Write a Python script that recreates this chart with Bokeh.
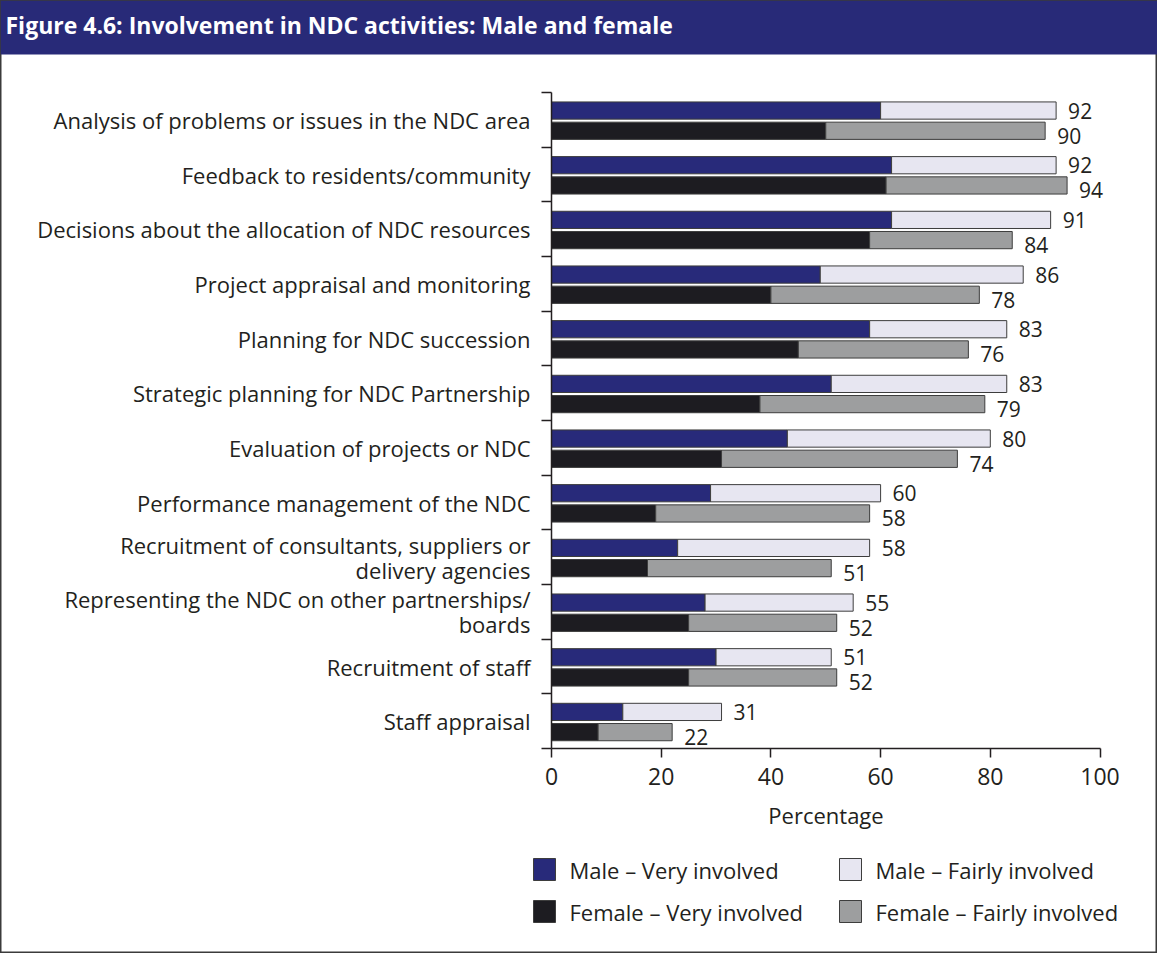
from bokeh.plotting import figure
from bokeh.models import Range1d, LinearAxis, FixedTicker, ColumnDataSource
from bokeh.core.properties import value
from bokeh.embed import file_html
from bokeh.resources import INLINE

# ---------------- data ----------------
categories = [
    "Analysis of problems or issues in the NDC area",
    "Feedback to residents/community",
    "Decisions about the allocation of NDC resources",
    "Project appraisal and monitoring",
    "Planning for NDC succession",
    "Strategic planning for NDC Partnership",
    "Evaluation of projects or NDC",
    "Performance management of the NDC",
    "Recruitment of consultants, suppliers or\ndelivery agencies",
    "Representing the NDC on other partnerships/\nboards",
    "Recruitment of staff",
    "Staff appraisal",
]
male_very = [60, 62, 62, 49, 58, 51, 43, 29, 23, 28, 30, 13]
male_total = [92, 92, 91, 86, 83, 83, 80, 60, 58, 55, 51, 31]
female_very = [50, 61, 58, 40, 45, 38, 31, 19, 17.5, 25, 25, 8.5]
female_total = [90, 94, 84, 78, 76, 79, 74, 58, 51, 52, 52, 22]
x_ticks = [0, 20, 40, 60, 80, 100]
series_names = ["Male \u2013 Very involved", "Male \u2013 Fairly involved",
                "Female \u2013 Very involved", "Female \u2013 Fairly involved"]
title_text = "Figure 4.6: Involvement in NDC activities: Male and female"

# ---------------- style ----------------
FONT_NAME = "Open Sans"
FONT = value(FONT_NAME)
INK = "#231f20"
HEADER = "#282a78"
C_MV = "#282a7a"
C_MF = "#e7e6f1"
C_FV = "#1d1c21"
C_FF = "#9d9e9f"
EDGE = "#3d3d3d"

W, H = 1157, 953
PX_PER_PCT = 5.485
X0_PX = 551
ROW_PX = 54.67
Y0_PX = 92


def px2x(px):
    return (px - X0_PX) / PX_PER_PCT


def px2y(py):
    return (py - Y0_PX) / ROW_PX


n = len(categories)
y_m = [i + 0.33 for i in range(n)]
y_f = [i + 0.70 for i in range(n)]

src = ColumnDataSource(dict(
    y_m=y_m, y_f=y_f,
    mv=male_very, mt=male_total, fv=female_very, ft=female_total,
    mlab=[str(v) for v in male_total], flab=[str(v) for v in female_total],
))

p = figure(width=W, height=H, output_backend="svg", toolbar_location=None,
           x_range=Range1d(px2x(0), px2x(W)),
           y_range=Range1d(px2y(H), px2y(0)),
           x_axis_type=None, y_axis_type=None,
           min_border_left=0, min_border_right=0, min_border_top=0, min_border_bottom=0)
p.title.visible = False
p.outline_line_color = "#3b3b3b"
p.outline_line_width = 2
p.background_fill_color = "white"
p.border_fill_color = "white"

# header
p.quad(left=px2x(0), right=px2x(W), top=px2y(0), bottom=px2y(54),
       fill_color=HEADER, line_color=None)
p.text(x=[px2x(5)], y=[px2y(24)], text=[title_text], text_font=FONT,
       text_font_style="bold", text_font_size="23px", text_color="white",
       text_baseline="middle", text_align="left")

BH = 0.315
p.hbar(y="y_m", left=0, right="mv", height=BH, fill_color=C_MV, line_color=EDGE,
       line_width=1, source=src)
p.hbar(y="y_m", left="mv", right="mt", height=BH, fill_color=C_MF, line_color=EDGE,
       line_width=1, source=src)
p.hbar(y="y_f", left=0, right="fv", height=BH, fill_color=C_FV, line_color=EDGE,
       line_width=1, source=src)
p.hbar(y="y_f", left="fv", right="ft", height=BH, fill_color=C_FF, line_color=EDGE,
       line_width=1, source=src)

p.text(x="mt", y="y_m", text="mlab", x_offset=12, text_baseline="middle",
       text_font=FONT, text_font_size="21px", text_color=INK, source=src)
p.text(x="ft", y="y_f", text="flab", x_offset=12, y_offset=5, text_baseline="middle",
       text_font=FONT, text_font_size="21px", text_color=INK, source=src)

# y axis: labels at row centres, ticks (minor) at row boundaries
yax = LinearAxis(fixed_location=0,
                 ticker=FixedTicker(ticks=[i + 0.5 for i in range(n)],
                                    minor_ticks=list(range(n + 1))),
                 bounds=(0, n),
                 axis_line_color=INK, axis_line_width=1.5,
                 major_tick_line_color=None, major_tick_out=0, major_tick_in=0,
                 minor_tick_line_color=INK, minor_tick_line_width=1.5,
                 minor_tick_out=10, minor_tick_in=0,
                 major_label_standoff=11,
                 major_label_overrides={i + 0.5: c for i, c in enumerate(categories)},
                 major_label_text_font=FONT_NAME, major_label_text_font_size="22px",
                 major_label_text_line_height=0.83,
                 major_label_text_color=INK)
p.add_layout(yax, "left")

xax = LinearAxis(fixed_location=n, ticker=FixedTicker(ticks=x_ticks),
                 bounds=(0, 100), major_tick_out=9, major_tick_in=0,
                 axis_line_color=INK, axis_line_width=1.5,
                 major_tick_line_color=INK, major_tick_line_width=1.5,
                 minor_tick_line_color=None,
                 major_label_standoff=10,
                 major_label_text_font=FONT_NAME, major_label_text_font_size="23px",
                 major_label_text_color=INK,
                 axis_label="Percentage", axis_label_text_font=FONT_NAME,
                 axis_label_text_font_style="normal", axis_label_text_font_size="22px",
                 axis_label_text_color=INK, axis_label_standoff=12)
p.add_layout(xax, "below")

# legend (manual)
sw = 22
leg_cols = [533, 839]
leg_rows = [858, 900]
fills = [C_MV, C_MF, C_FV, C_FF]
for k, name in enumerate(series_names):
    col = k % 2
    row = k // 2
    lx = leg_cols[col]
    ty = leg_rows[row]
    p.quad(left=px2x(lx), right=px2x(lx + sw), top=px2y(ty), bottom=px2y(ty + sw),
           fill_color=fills[k], line_color=EDGE, line_width=1)
    p.text(x=[px2x(lx + sw + 14)], y=[px2y(ty + sw / 2)], text=[name],
           text_font=FONT, text_font_size="22px", text_color=INK,
           text_baseline="middle", text_align="left")

open("out.html", "w").write(file_html(p, INLINE))
